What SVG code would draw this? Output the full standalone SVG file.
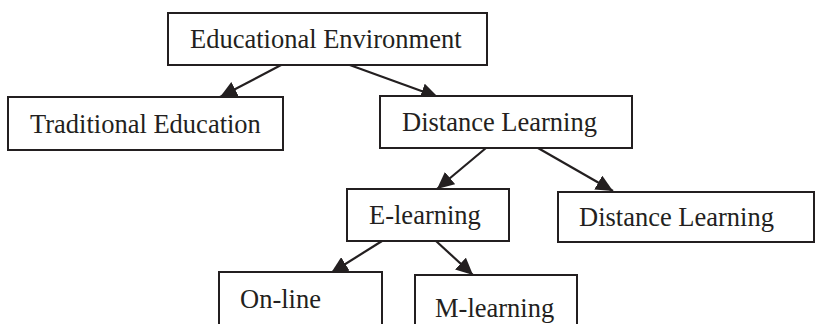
<svg xmlns="http://www.w3.org/2000/svg" width="816" height="324" viewBox="0 0 816 324">
<style>
.box{fill:#fff;stroke:#231f20;stroke-width:2}
.lbl{font-family:"Liberation Serif","Times New Roman",serif;font-size:26.5px;fill:#231f20}
.conn{stroke:#231f20;stroke-width:2.2;fill:none;marker-end:url(#ah)}
</style>
<defs>
<marker id="ah" markerUnits="userSpaceOnUse" markerWidth="18" markerHeight="16" refX="17" refY="8" orient="auto">
<path d="M0,0 L17,8 L0,16 z" fill="#231f20"/>
</marker>
</defs>
<rect width="816" height="324" fill="#fff"/>
<g id="connectors">
<line class="conn" x1="283" y1="64" x2="220" y2="97"/>
<line class="conn" x1="347" y1="64" x2="438" y2="97"/>
<line class="conn" x1="486" y1="148" x2="437" y2="189"/>
<line class="conn" x1="538" y1="148" x2="613" y2="191"/>
<line class="conn" x1="382" y1="241" x2="331" y2="273"/>
<line class="conn" x1="436" y1="241" x2="473" y2="275"/>
</g>
<g id="n-educational-environment">
<rect class="box" x="168" y="13" width="319" height="52"/>
<text class="lbl" x="190" y="48">Educational Environment</text>
</g>
<g id="n-traditional-education">
<rect class="box" x="8" y="97" width="275" height="53"/>
<text class="lbl" x="30" y="132.5">Traditional Education</text>
</g>
<g id="n-distance-learning">
<rect class="box" x="380" y="96" width="252" height="52"/>
<text class="lbl" x="402" y="131">Distance Learning</text>
</g>
<g id="n-e-learning">
<rect class="box" x="347" y="189" width="162" height="52"/>
<text class="lbl" x="369" y="224">E-learning</text>
</g>
<g id="n-distance-learning-2">
<rect class="box" x="558" y="192" width="256" height="50"/>
<text class="lbl" x="579" y="226">Distance Learning</text>
</g>
<g id="n-on-line">
<rect class="box" x="219" y="272" width="163" height="60"/>
<text class="lbl" x="240" y="308">On-line</text>
</g>
<g id="n-m-learning">
<rect class="box" x="415" y="275" width="162" height="60"/>
<text class="lbl" x="435" y="317">M-learning</text>
</g>
</svg>
